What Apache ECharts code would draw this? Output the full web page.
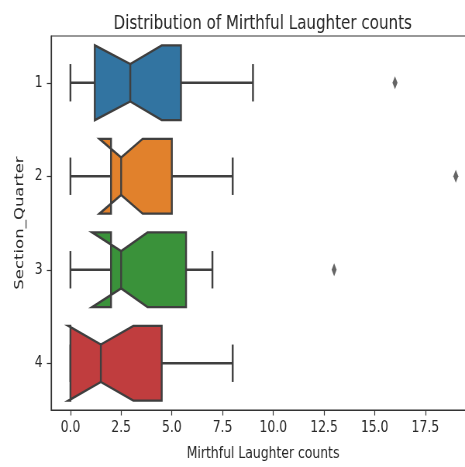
<!DOCTYPE html>
<html>
<head>
<meta charset="utf-8">
<script src="https://cdn.jsdelivr.net/npm/echarts@6/dist/echarts.min.js"></script>
<style>
html,body{margin:0;padding:0;background:#fff;overflow:hidden;width:465px;height:467px;}
#chart{width:614px;height:467px;transform:scaleX(0.775);transform-origin:0 0;}
</style>
</head>
<body>
<div id="chart"></div>
<script>
const categories = ['1', '2', '3', '4'];
const whiskerLow = [0, 0, 0, 0];
const q1 = [1.2, 2, 2, 0];
const notchLow = [1.2, 1.43, 1.07, -0.1];
const median = [2.95, 2.5, 2.5, 1.5];
const notchHigh = [4.5, 3.56, 3.8, 3.1];
const q3 = [5.45, 5, 5.7, 4.5];
const whiskerHigh = [9, 8, 7, 8];
const outlierValues = [16, 19, 13];
const outlierCategories = ['1', '2', '3'];
const xTicks = [0, 2.5, 5, 7.5, 10, 12.5, 15, 17.5];

const palette = ['#3274a1', '#e1812c', '#3a923a', '#c03d3e'];
const edge = '#3f3f3f';
const font = 'DejaVu Sans';

const boxData = categories.map((c, i) => [i, whiskerLow[i], q1[i], notchLow[i], median[i], notchHigh[i], q3[i], whiskerHigh[i]]);
const outlierData = outlierValues.map((v, i) => [v, outlierCategories[i]]);

function renderBox(params, api) {
  const c = api.value(0);
  const lo = api.value(1), a = api.value(2), nl = api.value(3), m = api.value(4),
        nh = api.value(5), b = api.value(6), hi = api.value(7);
  const yc = api.coord([0, c])[1];
  const band = api.size([0, 1])[1];
  const hw = band * 0.4, nw = band * 0.2, cw = band * 0.2;
  const X = v => api.coord([v, c])[0];
  const T = yc - hw, B = yc + hw, nT = yc - nw, nB = yc + nw;
  const pts = [[X(a), T], [X(a), B], [X(nl), B], [X(m), nB], [X(nh), B], [X(b), B],
               [X(b), T], [X(nh), T], [X(m), nT], [X(nl), T], [X(a), T]];
  const ls = { stroke: edge, lineWidth: 2.4 };
  return {
    type: 'group',
    children: [
      { type: 'line', shape: { x1: X(lo), y1: yc, x2: X(a), y2: yc }, style: ls },
      { type: 'line', shape: { x1: X(b), y1: yc, x2: X(hi), y2: yc }, style: ls },
      { type: 'line', shape: { x1: X(lo), y1: yc - cw, x2: X(lo), y2: yc + cw }, style: ls },
      { type: 'line', shape: { x1: X(hi), y1: yc - cw, x2: X(hi), y2: yc + cw }, style: ls },
      { type: 'polygon', shape: { points: pts }, style: { fill: palette[c], stroke: edge, lineWidth: 2.4, lineJoin: 'miter' } },
      { type: 'line', shape: { x1: X(m), y1: nT, x2: X(m), y2: nB }, style: ls }
    ]
  };
}

const chart = echarts.init(document.getElementById('chart'));
chart.setOption({
  backgroundColor: '#fff',
  animation: false,
  title: {
    text: 'Distribution of Mirthful Laughter counts',
    left: 334,
    textAlign: 'center',
    top: 9,
    textStyle: { fontFamily: font, fontSize: 19.5, fontWeight: 'normal', color: '#262626' }
  },
  grid: { left: 66, right: 1, top: 36, bottom: 54, show: true, borderColor: '#333', borderWidth: 1.2, backgroundColor: 'transparent' },
  xAxis: {
    type: 'value',
    min: -0.95,
    max: 19.95,
    name: 'Mirthful Laughter counts',
    nameLocation: 'middle',
    nameGap: 36,
    nameTextStyle: { fontFamily: font, fontSize: 16, color: '#262626' },
    splitLine: { show: false },
    axisLine: { show: true, onZero: false, lineStyle: { color: '#333', width: 1.2 } },
    axisTick: { show: true, length: 5.5, customValues: xTicks, lineStyle: { color: '#333', width: 1.2 } },
    axisLabel: { customValues: xTicks, margin: 10, fontFamily: font, fontSize: 16, color: '#262626', formatter: v => v.toFixed(1) }
  },
  yAxis: {
    type: 'category',
    data: categories,
    inverse: true,
    name: 'Section_Quarter',
    nameLocation: 'middle',
    nameGap: 30,
    nameTextStyle: { fontFamily: font, fontSize: 16.5, color: '#262626' },
    axisLine: { show: true, onZero: false, lineStyle: { color: '#333', width: 1.2 } },
    axisTick: { show: true, alignWithLabel: true, length: 5.5, lineStyle: { color: '#333', width: 1.2 } },
    axisLabel: { margin: 11, fontFamily: font, fontSize: 16, color: '#262626' },
    splitLine: { show: false }
  },
  series: [
    {
      type: 'custom',
      renderItem: renderBox,
      data: boxData,
      encode: { x: [1, 2, 3, 4, 5, 6, 7], y: 0 },
      z: 2
    },
    {
      type: 'scatter',
      data: outlierData,
      symbol: 'diamond',
      symbolSize: [6.5, 13],
      itemStyle: { color: edge },
      z: 3
    }
  ]
});
</script>
</body>
</html>
